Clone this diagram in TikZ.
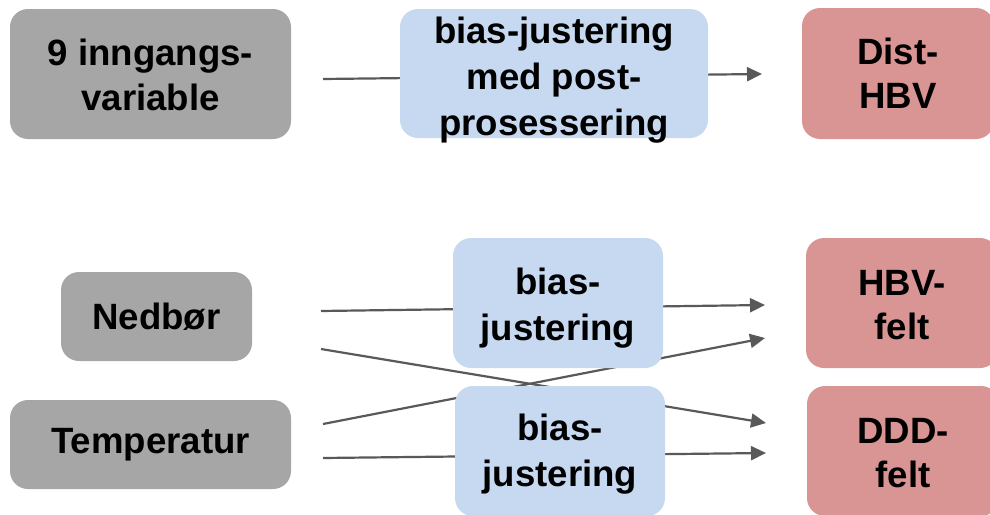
\documentclass[tikz,border=0pt]{standalone}
\usepackage{fontspec}
\setmainfont{Liberation Sans}
\usetikzlibrary{arrows.meta}
\definecolor{boxgray}{HTML}{A6A6A6}
\definecolor{boxblue}{HTML}{C6D9F1}
\definecolor{boxpink}{HTML}{D99594}
\definecolor{linegray}{HTML}{595959}
\begin{document}
\begin{tikzpicture}[x=1pt,y=-1pt,
  box/.style={rectangle, rounded corners=18pt, inner sep=0pt, align=center,
    font=\fontsize{36.6}{45}\selectfont\bfseries},
  inbox/.style={box, fill=boxgray},
  biasbox/.style={box, fill=boxblue, font=\fontsize{36.6}{46}\selectfont\bfseries},
  outbox/.style={box, fill=boxpink, font=\fontsize{36.6}{44}\selectfont\bfseries},
  boxtext/.style={inner sep=0pt, align=center, font=\fontsize{36.6}{46}\selectfont\bfseries},
  conn/.style={draw=linegray, line width=2.2pt, -{Triangle[length=15pt,width=14pt]}}
]
\path[use as bounding box] (0,0) rectangle (990,514);
\clip (0,0) rectangle (990,514);
% connector end points
\coordinate (s0) at (323,79);  \coordinate (e0) at (762,74);
\coordinate (s1) at (321,311); \coordinate (e1) at (765,305);
\coordinate (s2) at (321,349); \coordinate (e2) at (766,423);
\coordinate (s3) at (323,424); \coordinate (e3) at (765,338);
\coordinate (s4) at (323,458); \coordinate (e4) at (766,453);
\draw[conn] (s0) -- (e0);
\draw[conn] (s1) -- (e1);
\draw[conn] (s2) -- (e2);
\draw[conn] (s3) -- (e3);
\draw[conn] (s4) -- (e4);
% boxes
\node[inbox, minimum width=281pt, minimum height=130pt] (inn) at (150.5,74) {\rule{0pt}{29pt}9 inngangs-\\variable};
\node[inbox, minimum width=191pt, minimum height=89pt] (ned) at (156.5,316.5) {Nedbør};
\node[inbox, minimum width=281pt, minimum height=89pt] (temp) at (150.5,444.5) {Temperatur};
\node[biasbox, minimum width=308pt, minimum height=129pt,
  label={[boxtext, yshift=-6.5pt, name=bposttext]center:bias-justering\\med post-\\prosessering}] (bpost) at (554,73.5) {};
\node[biasbox, minimum width=210pt, minimum height=130pt] (bned) at (558,303) {\rule{0pt}{37.7pt}bias-\\justering};
\node[biasbox, minimum width=210pt, minimum height=130pt] (btemp) at (560,451) {\rule{0pt}{32.7pt}bias-\\justering};
\node[outbox, minimum width=192pt, minimum height=131pt] (dist) at (898,73.5) {Dist-\\HBV};
\node[outbox, minimum width=192pt, minimum height=130pt] (hbv) at (902,303) {\rule{0pt}{29pt}HBV-\\felt};
\node[outbox, minimum width=192pt, minimum height=130pt] (ddd) at (903,451) {\rule{0pt}{29pt}DDD-\\felt};
\end{tikzpicture}
\end{document}
